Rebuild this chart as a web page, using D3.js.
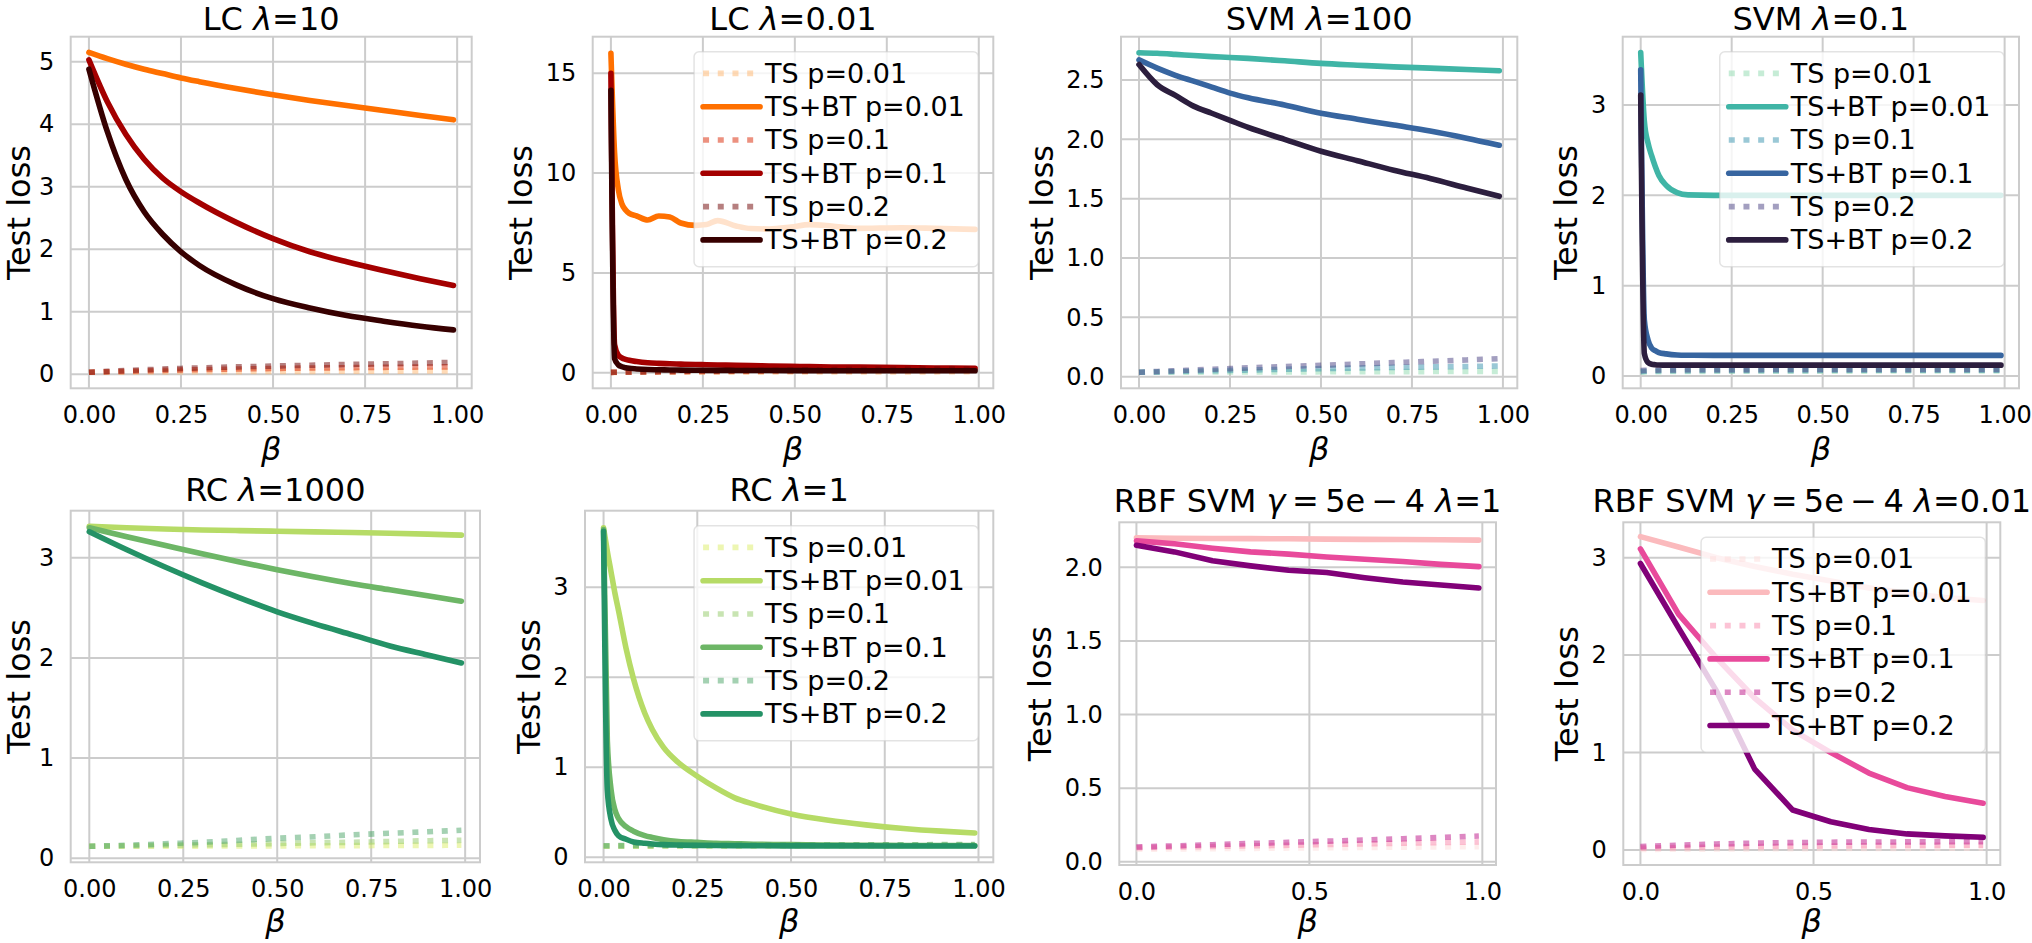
<!DOCTYPE html>
<html>
<head>
<meta charset="utf-8">
<script src="https://cdn.jsdelivr.net/npm/d3@7"></script>
<style>
  body { margin: 0; background: #fff; }
  text { font-family: "DejaVu Sans", sans-serif; fill: #000; }
</style>
</head>
<body>
<svg id="chart" width="2032" height="943"></svg>
<script>
// ---- data ----
var seriesNames = ["TS p=0.01", "TS+BT p=0.01", "TS p=0.1", "TS+BT p=0.1", "TS p=0.2", "TS+BT p=0.2"];

var titles = ["LC λ=10", "LC λ=0.01", "SVM λ=100", "SVM λ=0.1",
              "RC λ=1000", "RC λ=1",
              "RBF SVM γ\u2009=\u20095e\u2009\u2212\u20094 λ=1", "RBF SVM γ\u2009=\u20095e\u2009\u2212\u20094 λ=0.01"];

var betaSmooth = [0, 0.05, 0.1, 0.15, 0.2, 0.25, 0.3, 0.4, 0.5, 0.6, 0.7, 0.8, 0.9, 0.99];
var betaLC001 = [0, 0.01, 0.02, 0.03, 0.04, 0.05, 0.07, 0.1, 0.13, 0.16, 0.19, 0.23, 0.26, 0.29, 0.34, 0.38, 0.43, 0.49, 0.54, 0.6, 0.67, 0.79, 0.88, 0.99];
var betaSVM01 = [0, 0.01, 0.02, 0.03, 0.04, 0.05, 0.07, 0.1, 0.13, 0.2, 0.3, 0.5, 0.7, 0.99];
var betaRC1000 = [0, 0.1, 0.2, 0.3, 0.4, 0.5, 0.6, 0.7, 0.8, 0.9, 0.99];
var betaRC1 = [0, 0.01, 0.02, 0.03, 0.04, 0.06, 0.08, 0.11, 0.13, 0.16, 0.2, 0.25, 0.3, 0.35, 0.4, 0.5, 0.6, 0.7, 0.8, 0.9, 0.99];
var betaRBF = [0, 0.11, 0.22, 0.33, 0.44, 0.55, 0.66, 0.77, 0.88, 0.99];

// each loss array follows seriesNames order
var lossLC10 = [
  [0.032, 0.033, 0.035, 0.036, 0.038, 0.04, 0.041, 0.043, 0.045, 0.047, 0.049, 0.05, 0.052, 0.054],
  [5.15, 5.05, 4.96, 4.88, 4.81, 4.74, 4.68, 4.57, 4.47, 4.38, 4.3, 4.22, 4.14, 4.07],
  [0.032, 0.04, 0.048, 0.055, 0.062, 0.068, 0.074, 0.084, 0.093, 0.1, 0.106, 0.111, 0.116, 0.12],
  [5.03, 4.36, 3.84, 3.44, 3.14, 2.92, 2.74, 2.43, 2.17, 1.96, 1.8, 1.66, 1.53, 1.42],
  [0.032, 0.047, 0.06, 0.072, 0.083, 0.093, 0.102, 0.118, 0.132, 0.145, 0.157, 0.168, 0.179, 0.19],
  [4.88, 3.88, 3.12, 2.6, 2.24, 1.96, 1.74, 1.43, 1.21, 1.06, 0.94, 0.85, 0.77, 0.71]
];
var lossLC001 = [
  [0.02, 0.02, 0.02, 0.021, 0.021, 0.022, 0.022, 0.023, 0.024, 0.025, 0.026, 0.027, 0.028, 0.029, 0.03, 0.031, 0.033, 0.035, 0.036, 0.038, 0.04, 0.043, 0.045, 0.048],
  [16.0, 11.0, 9.2, 8.45, 8.15, 7.98, 7.85, 7.65, 7.85, 7.8, 7.5, 7.38, 7.42, 7.62, 7.35, 7.22, 7.2, 7.3, 7.42, 7.35, 7.23, 7.26, 7.23, 7.18],
  [0.02, 0.022, 0.024, 0.026, 0.028, 0.03, 0.034, 0.04, 0.045, 0.05, 0.055, 0.06, 0.064, 0.068, 0.074, 0.078, 0.084, 0.09, 0.095, 0.1, 0.105, 0.112, 0.116, 0.12],
  [15.0, 1.4, 0.88, 0.74, 0.67, 0.62, 0.56, 0.5, 0.47, 0.45, 0.43, 0.41, 0.4, 0.39, 0.37, 0.36, 0.34, 0.32, 0.31, 0.29, 0.28, 0.26, 0.24, 0.22],
  [0.02, 0.023, 0.026, 0.03, 0.033, 0.036, 0.042, 0.05, 0.058, 0.066, 0.073, 0.082, 0.089, 0.095, 0.105, 0.113, 0.122, 0.133, 0.141, 0.151, 0.161, 0.174, 0.182, 0.19],
  [14.15, 0.7, 0.4, 0.3, 0.25, 0.22, 0.19, 0.16, 0.15, 0.14, 0.13, 0.125, 0.12, 0.12, 0.115, 0.11, 0.11, 0.105, 0.105, 0.1, 0.1, 0.1, 0.1, 0.1]
];
var lossSVM100 = [
  [0.037, 0.037, 0.038, 0.038, 0.039, 0.039, 0.04, 0.04, 0.041, 0.042, 0.042, 0.043, 0.044, 0.045],
  [2.73, 2.725, 2.716, 2.706, 2.697, 2.69, 2.682, 2.662, 2.64, 2.625, 2.611, 2.6, 2.588, 2.578],
  [0.037, 0.04, 0.044, 0.047, 0.05, 0.053, 0.056, 0.062, 0.068, 0.073, 0.078, 0.082, 0.086, 0.09],
  [2.67, 2.6, 2.54, 2.49, 2.44, 2.39, 2.35, 2.29, 2.22, 2.17, 2.12, 2.07, 2.01, 1.95],
  [0.037, 0.044, 0.05, 0.056, 0.062, 0.068, 0.074, 0.085, 0.096, 0.107, 0.118, 0.129, 0.141, 0.152],
  [2.63, 2.46, 2.37, 2.28, 2.22, 2.16, 2.1, 2.0, 1.9, 1.82, 1.74, 1.67, 1.59, 1.52]
];
var lossSVM01 = [
  [0.041, 0.043, 0.045, 0.046, 0.047, 0.048, 0.049, 0.05, 0.051, 0.052, 0.053, 0.054, 0.055, 0.056],
  [3.58, 2.82, 2.58, 2.44, 2.32, 2.22, 2.11, 2.03, 2.005, 2.0, 2.0, 2.0, 2.0, 2.0],
  [0.05, 0.052, 0.054, 0.055, 0.056, 0.057, 0.058, 0.059, 0.06, 0.061, 0.062, 0.063, 0.064, 0.065],
  [3.39, 0.62, 0.4, 0.31, 0.28, 0.26, 0.245, 0.233, 0.23, 0.228, 0.228, 0.228, 0.228, 0.228],
  [0.06, 0.062, 0.063, 0.064, 0.065, 0.066, 0.067, 0.068, 0.069, 0.07, 0.071, 0.072, 0.073, 0.074],
  [3.11, 0.25, 0.15, 0.13, 0.125, 0.122, 0.12, 0.12, 0.12, 0.12, 0.12, 0.12, 0.12, 0.12]
];
var lossRC1000 = [
  [0.12, 0.12, 0.121, 0.122, 0.123, 0.124, 0.125, 0.126, 0.128, 0.129, 0.13],
  [3.315, 3.3, 3.288, 3.278, 3.271, 3.265, 3.259, 3.253, 3.245, 3.236, 3.226],
  [0.12, 0.125, 0.13, 0.135, 0.14, 0.148, 0.155, 0.16, 0.168, 0.175, 0.18],
  [3.3, 3.21, 3.125, 3.04, 2.958, 2.88, 2.808, 2.74, 2.68, 2.62, 2.567],
  [0.12, 0.13, 0.145, 0.16, 0.18, 0.2, 0.215, 0.235, 0.25, 0.265, 0.28],
  [3.26, 3.08, 2.91, 2.75, 2.6, 2.46, 2.34, 2.23, 2.12, 2.03, 1.95]
];
var lossRC1 = [
  [0.122, 0.122, 0.122, 0.123, 0.123, 0.123, 0.124, 0.124, 0.124, 0.125, 0.125, 0.126, 0.126, 0.127, 0.127, 0.128, 0.128, 0.129, 0.129, 0.13, 0.13],
  [3.66, 3.4, 3.17, 2.94, 2.74, 2.32, 1.98, 1.6, 1.42, 1.22, 1.05, 0.9, 0.77, 0.66, 0.59, 0.48, 0.41, 0.36, 0.32, 0.29, 0.27],
  [0.125, 0.125, 0.125, 0.126, 0.126, 0.126, 0.127, 0.127, 0.127, 0.128, 0.128, 0.129, 0.129, 0.13, 0.13, 0.131, 0.132, 0.132, 0.133, 0.134, 0.135],
  [3.64, 1.3, 0.75, 0.53, 0.43, 0.34, 0.29, 0.24, 0.22, 0.195, 0.175, 0.165, 0.155, 0.15, 0.145, 0.14, 0.136, 0.133, 0.131, 0.13, 0.13],
  [0.128, 0.128, 0.128, 0.129, 0.129, 0.129, 0.13, 0.13, 0.131, 0.131, 0.132, 0.133, 0.133, 0.134, 0.135, 0.136, 0.137, 0.138, 0.139, 0.14, 0.14],
  [3.62, 0.75, 0.42, 0.3, 0.24, 0.2, 0.17, 0.155, 0.148, 0.14, 0.135, 0.132, 0.13, 0.129, 0.128, 0.127, 0.126, 0.126, 0.125, 0.125, 0.125]
];
var lossRBF1 = [
  [0.085, 0.087, 0.089, 0.091, 0.093, 0.095, 0.097, 0.099, 0.101, 0.103],
  [2.2, 2.198, 2.196, 2.195, 2.194, 2.192, 2.19, 2.189, 2.187, 2.185],
  [0.095, 0.1, 0.104, 0.108, 0.112, 0.117, 0.121, 0.126, 0.13, 0.135],
  [2.18, 2.16, 2.13, 2.105, 2.09, 2.07, 2.055, 2.04, 2.02, 2.005],
  [0.1, 0.108, 0.116, 0.124, 0.132, 0.14, 0.148, 0.156, 0.165, 0.175],
  [2.15, 2.105, 2.045, 2.01, 1.98, 1.965, 1.93, 1.9, 1.88, 1.86]
];
var lossRBF001 = [
  [0.006, 0.008, 0.01, 0.012, 0.014, 0.015, 0.016, 0.017, 0.018, 0.02],
  [3.216, 3.11, 3.0, 2.91, 2.83, 2.76, 2.69, 2.635, 2.59, 2.56],
  [0.02, 0.025, 0.03, 0.034, 0.038, 0.041, 0.044, 0.046, 0.048, 0.05],
  [3.09, 2.42, 1.97, 1.56, 1.23, 1.0, 0.79, 0.64, 0.55, 0.48],
  [0.035, 0.05, 0.062, 0.07, 0.076, 0.08, 0.082, 0.083, 0.084, 0.085],
  [2.94, 2.28, 1.63, 0.83, 0.41, 0.29, 0.21, 0.165, 0.145, 0.13]
];

var ticksX4 = [0, 0.25, 0.5, 0.75, 1];
var ticksX2 = [0, 0.5, 1];
var ticksInt5 = [0, 1, 2, 3, 4, 5];
var ticksInt15 = [0, 5, 10, 15];
var ticksInt3 = [0, 1, 2, 3];
var ticksHalf25 = [0, 0.5, 1, 1.5, 2, 2.5];
var ticksHalf20 = [0, 0.5, 1, 1.5, 2];

// ---- styles ----
var heatColors   = ["#ffb66d", "#ff7000", "#da2400", "#a40000", "#6d0000", "#370000"];
var makoColors   = ["#8dd9ad", "#40b5a6", "#3591ad", "#3765a0", "#473f81", "#2c1e3e"];
var summerColors = ["#dbed66", "#b6db66", "#92c966", "#6db666", "#49a466", "#249266"];
var rdpuColors   = ["#fddcd9", "#fbbabd", "#f987ac", "#e84a9b", "#bc1085", "#810178"];

var panels = [
  {box: [70.7, 36.7, 471.7, 388.3],   y: [-0.224, 5.4],   beta: betaSmooth, loss: lossLC10,   yt: ticksInt5,   yf: "d",   xt: ticksX4, xf: ".2f", col: heatColors,   legend: false, curve: d3.curveMonotoneX},
  {box: [592.7, 36.7, 993.3, 388.3],  y: [-0.78, 16.83],  beta: betaLC001,  loss: lossLC001,  yt: ticksInt15,  yf: "d",   xt: ticksX4, xf: ".2f", col: heatColors,   legend: true,  curve: d3.curveMonotoneX},
  {box: [1121, 36.7, 1517.3, 388.3],  y: [-0.098, 2.865], beta: betaSmooth, loss: lossSVM100, yt: ticksHalf25, yf: ".1f", xt: ticksX4, xf: ".2f", col: makoColors,   legend: false, curve: d3.curveMonotoneX},
  {box: [1622.7, 36.7, 2019, 388.3],  y: [-0.136, 3.756], beta: betaSVM01,  loss: lossSVM01,  yt: ticksInt3,   yf: "d",   xt: ticksX4, xf: ".2f", col: makoColors,   legend: true,  curve: d3.curveMonotoneX},
  {box: [70.7, 510.7, 480, 862.3],    y: [-0.04, 3.47],   beta: betaRC1000, loss: lossRC1000, yt: ticksInt3,   yf: "d",   xt: ticksX4, xf: ".2f", col: summerColors, legend: false, curve: d3.curveMonotoneX},
  {box: [585, 510.7, 993.3, 862.3],   y: [-0.056, 3.85],  beta: betaRC1,    loss: lossRC1,    yt: ticksInt3,   yf: "d",   xt: ticksX4, xf: ".2f", col: summerColors, legend: true,  curve: d3.curveMonotoneX},
  {box: [1119.3, 522.3, 1496, 865],   y: [-0.022, 2.306], beta: betaRBF,    loss: lossRBF1,   yt: ticksHalf20, yf: ".1f", xt: ticksX2, xf: ".1f", col: rdpuColors,   legend: false, curve: d3.curveLinear},
  {box: [1623.3, 522.3, 2000.3, 865], y: [-0.154, 3.363], beta: betaRBF,    loss: lossRBF001, yt: ticksInt3,   yf: "d",   xt: ticksX2, xf: ".1f", col: rdpuColors,   legend: true,  curve: d3.curveLinear}
];

var svg = d3.select("#chart");
var gridColor = "#cccccc";

// title text with the greek letters set in italics, like mathtext
function richText(sel, str) {
  str.split(/([λγβ])/).forEach(function(part) {
    if (!part) return;
    sel.append("tspan").text(part)
      .style("font-style", /[λγβ]/.test(part) ? "italic" : "normal");
  });
}

panels.forEach(function(p, i) {
  var L = p.box[0], T = p.box[1], R = p.box[2], B = p.box[3];
  var ext = d3.extent(p.beta), pad = (ext[1] - ext[0]) * 0.05;

  var x = d3.scaleLinear().domain([ext[0] - pad, ext[1] + pad]).range([L, R]);
  var y = d3.scaleLinear().domain(p.y).range([B, T]);

  var g = svg.append("g");

  g.append("clipPath").attr("id", "clip" + i)
    .append("rect").attr("x", L).attr("y", T).attr("width", R - L).attr("height", B - T);

  // grid
  g.selectAll(".gx").data(p.xt).enter().append("line")
    .attr("x1", function(d) { return x(d); }).attr("x2", function(d) { return x(d); })
    .attr("y1", T).attr("y2", B)
    .attr("stroke", gridColor).attr("stroke-width", 2);
  g.selectAll(".gy").data(p.yt).enter().append("line")
    .attr("y1", function(d) { return y(d); }).attr("y2", function(d) { return y(d); })
    .attr("x1", L).attr("x2", R)
    .attr("stroke", gridColor).attr("stroke-width", 2);

  // lines
  var line = d3.line()
    .x(function(d, j) { return x(p.beta[j]); })
    .y(function(d) { return y(d); })
    .curve(p.curve);

  var plot = g.append("g").attr("clip-path", "url(#clip" + i + ")");
  p.loss.forEach(function(vals, k) {
    var dotted = k % 2 === 0;
    plot.append("path")
      .attr("d", line(vals))
      .attr("fill", "none")
      .attr("stroke", p.col[k])
      .attr("stroke-width", 5.6)
      .attr("stroke-opacity", dotted ? 0.5 : 1)
      .attr("stroke-dasharray", dotted ? "6,8.7" : null)
      .attr("stroke-linecap", dotted ? "butt" : "round")
      .attr("stroke-linejoin", "round");
  });

  // frame
  g.append("rect")
    .attr("x", L).attr("y", T).attr("width", R - L).attr("height", B - T)
    .attr("fill", "none").attr("stroke", gridColor).attr("stroke-width", 2);

  // axes
  var xAxis = g.append("g").attr("transform", "translate(0," + B + ")")
    .call(d3.axisBottom(x).tickValues(p.xt).tickFormat(d3.format(p.xf)).tickSize(0).tickPadding(17.5));
  var yAxis = g.append("g").attr("transform", "translate(" + L + ",0)")
    .call(d3.axisLeft(y).tickValues(p.yt).tickFormat(d3.format(p.yf)).tickSize(0).tickPadding(16.5));
  [xAxis, yAxis].forEach(function(a) {
    a.select(".domain").remove();
    a.attr("font-family", "DejaVu Sans").attr("font-size", 24);
    a.selectAll("text").attr("fill", "#000");
  });

  var maxW = 0;
  yAxis.selectAll("text").each(function() { maxW = Math.max(maxW, this.getComputedTextLength()); });

  // keep the rotated label inside the page edge
  g.append("text")
    .attr("transform", "translate(" + Math.max(L - 16.5 - maxW - 13.5, 30) + "," + ((T + B) / 2) + ") rotate(-90)")
    .attr("text-anchor", "middle").attr("font-size", 32)
    .text("Test loss");

  // β sits a little higher than usual on the bottom row so its tail stays on the page
  var xl = g.append("text")
    .attr("x", (L + R) / 2).attr("y", Math.min(B + 72, 932))
    .attr("text-anchor", "middle").attr("font-size", 32);
  richText(xl, "β");

  var tt = g.append("text")
    .attr("x", (L + R) / 2).attr("y", Math.max(T - 10, 30))
    .attr("text-anchor", "middle").attr("font-size", 32);
  richText(tt, titles[i]);

  // legend
  if (p.legend) {
    var lg = g.append("g");
    var frame = lg.append("rect")
      .attr("rx", 5).attr("ry", 5)
      .attr("fill", "#fff").attr("fill-opacity", 0.8)
      .attr("stroke", gridColor).attr("stroke-opacity", 0.55).attr("stroke-width", 1.5);
    var textW = 0;
    seriesNames.forEach(function(name, k) {
      var cy = 21.7 + k * 33.3;
      var dotted = k % 2 === 0;
      lg.append("line")
        .attr("x1", 9).attr("x2", 66).attr("y1", cy).attr("y2", cy)
        .attr("stroke", p.col[k]).attr("stroke-width", 5.6)
        .attr("stroke-opacity", dotted ? 0.5 : 1)
        .attr("stroke-dasharray", dotted ? "6,8.7" : null)
        .attr("stroke-linecap", dotted ? "butt" : "round");
      var t = lg.append("text")
        .attr("x", 71).attr("y", cy + 9.5)
        .attr("font-size", 27).text(name);
      textW = Math.max(textW, t.node().getComputedTextLength());
    });
    var lw = 71 + textW + 13.5, lh = 215;
    frame.attr("width", lw).attr("height", lh);
    lg.attr("transform", "translate(" + (R - 15 - lw) + "," + (T + 15) + ")");
  }
});
</script>
</body>
</html>
